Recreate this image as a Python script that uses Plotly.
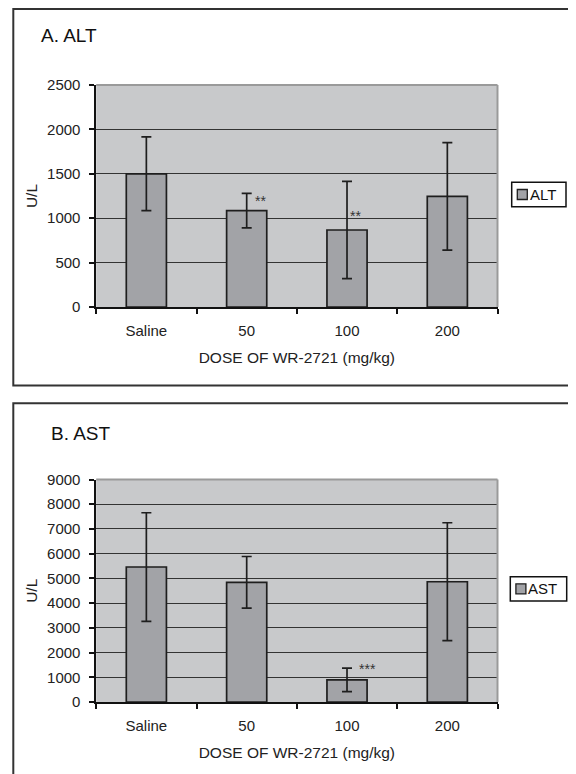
import plotly.graph_objects as go

# ---------------- data ----------------
categories = ["Saline", "50", "100", "200"]
alt_mean = [1500, 1085, 867, 1245]
alt_err = [415, 195, 548, 605]
ast_mean = [5460, 4840, 895, 4865]
ast_err = [2195, 1045, 475, 2385]
alt_ticks = [0, 500, 1000, 1500, 2000, 2500]
ast_ticks = [0, 1000, 2000, 3000, 4000, 5000, 6000, 7000, 8000, 9000]
# significance marks: (category, label y value, text)
alt_sig = [("50", 1233, "**"), ("100", 1055, "**")]
ast_sig = [("100", 1476, "***")]

# ---------------- styling ----------------
W, H = 576, 774
OFF = 8  # the page body adds an 8px margin around the figure
FONT = "Liberation Sans, Arial, sans-serif"
BG = "#c8c9cb"
BAR = "#a2a3a7"
EDGE = "#1e1e1e"
GRID = "#333333"


def px(x):
    return (x - OFF) / W


def py(y):
    return 1 - (y - OFF) / H


fig = go.Figure()

fig.add_trace(go.Bar(
    x=categories, y=alt_mean, name="ALT", width=0.4,
    marker=dict(color=BAR, line=dict(color=EDGE, width=1.7)),
    error_y=dict(type="data", array=alt_err, visible=True,
                 color=EDGE, thickness=1.7, width=5),
    xaxis="x", yaxis="y", showlegend=False,
))
fig.add_trace(go.Bar(
    x=categories, y=ast_mean, name="AST", width=0.4,
    marker=dict(color=BAR, line=dict(color=EDGE, width=1.7)),
    error_y=dict(type="data", array=ast_err, visible=True,
                 color=EDGE, thickness=1.7, width=5),
    xaxis="x2", yaxis="y2", showlegend=False,
))

xdom = [px(96.2), px(497.5)]
common_x = dict(
    type="category", categoryorder="array", categoryarray=categories,
    range=[-0.5, len(categories) - 0.5],
    tickson="boundaries", ticks="outside", ticklen=5,
    tickwidth=1.5, tickcolor="#111", showline=True, linecolor="#111",
    linewidth=1.5, showgrid=False, zeroline=False, tickangle=0,
    tickfont=dict(family=FONT, size=15, color="#222"),
    ticklabelstandoff=9,
    title=dict(text="DOSE OF WR-2721 (mg/kg)",
               font=dict(family=FONT, size=15.5, color="#222"), standoff=14),
    automargin=False, fixedrange=True,
)
common_y = dict(
    ticks="outside", ticklen=5, tickwidth=1.5, tickcolor="#111",
    showline=True, linecolor="#111", linewidth=1.5,
    showgrid=True, gridcolor=GRID, gridwidth=1.1, zeroline=False,
    tickfont=dict(family=FONT, size=15, color="#222"),
    ticklabelstandoff=6,
    title=dict(text="U/L", font=dict(family=FONT, size=15.5, color="#222"),
               standoff=6),
    automargin=False, fixedrange=True,
)

fig.update_layout(
    width=W, height=H,
    margin=dict(l=0, r=0, t=0, b=0),
    paper_bgcolor="white",
    plot_bgcolor=BG,
    font=dict(family=FONT, color="#222"),
    xaxis=dict(common_x, domain=xdom, anchor="y"),
    yaxis=dict(common_y, domain=[py(307), py(85)], anchor="x",
               range=[0, 2500], tickvals=alt_ticks),
    xaxis2=dict(common_x, domain=xdom, anchor="y2"),
    yaxis2=dict(common_y, domain=[py(702), py(479.5)], anchor="x2",
                range=[0, 9000], tickvals=ast_ticks),
)

shapes = []
# panel frames
shapes.append(dict(type="rect", xref="paper", yref="paper",
                   x0=px(13.3), x1=1.02, y0=py(385.5), y1=py(9),
                   line=dict(color="#333", width=2), fillcolor="rgba(0,0,0,0)"))
shapes.append(dict(type="rect", xref="paper", yref="paper",
                   x0=px(13.3), x1=1.02, y0=-0.05, y1=py(403.3),
                   line=dict(color="#333", width=2), fillcolor="rgba(0,0,0,0)"))
# light plot-area border (top and right)
for xa, ya in (("x", "y"), ("x2", "y2")):
    shapes.append(dict(type="line", xref=f"{xa} domain", yref=f"{ya} domain",
                       x0=0, x1=1, y0=1, y1=1, line=dict(color="#9a9a9a", width=2)))
    shapes.append(dict(type="line", xref=f"{xa} domain", yref=f"{ya} domain",
                       x0=1, x1=1, y0=0, y1=1, line=dict(color="#9a9a9a", width=2)))

# manual legends
legends = [("ALT", 511.7, 566.0, 182.3, 206.7), ("AST", 510.3, 566.7, 576.7, 601.0)]
annotations = []
for label, lx0, lx1, ly0, ly1 in legends:
    shapes.append(dict(type="rect", xref="paper", yref="paper",
                       x0=px(lx0), x1=px(lx1), y0=py(ly1), y1=py(ly0),
                       line=dict(color="#111", width=1.5), fillcolor="white"))
    cy = (ly0 + ly1) / 2
    shapes.append(dict(type="rect", xref="paper", yref="paper",
                       x0=px(lx0 + 5.6), x1=px(lx0 + 15.6), y0=py(cy + 5), y1=py(cy - 5),
                       line=dict(color=EDGE, width=1.3), fillcolor=BAR))
    annotations.append(dict(text=label, xref="paper", yref="paper",
                            x=px(lx0 + 16.0), y=py(cy), xanchor="left", yanchor="middle",
                            showarrow=False, font=dict(family=FONT, size=15, color="#111")))

# panel titles
annotations.append(dict(text="A. ALT", xref="paper", yref="paper", x=px(38.5), y=py(35.5),
                        xanchor="left", yanchor="middle", showarrow=False,
                        font=dict(family=FONT, size=19, color="#111")))
annotations.append(dict(text="B. AST", xref="paper", yref="paper", x=px(49.4), y=py(433),
                        xanchor="left", yanchor="middle", showarrow=False,
                        font=dict(family=FONT, size=19, color="#111")))

# significance asterisks (x given as category index)
shift = {"50": 13.7, "100": 8.5}
for cat, yv, txt in alt_sig:
    annotations.append(dict(text=txt, xref="x", yref="y", x=categories.index(cat), y=yv,
                            xshift=shift[cat], yshift=-3, showarrow=False,
                            xanchor="center", yanchor="middle",
                            font=dict(family=FONT, size=14, color="#333")))
for cat, yv, txt in ast_sig:
    annotations.append(dict(text=txt, xref="x2", yref="y2", x=categories.index(cat), y=yv,
                            xshift=20.6, yshift=-3, showarrow=False,
                            xanchor="center", yanchor="middle",
                            font=dict(family=FONT, size=14, color="#333")))

fig.update_layout(shapes=shapes, annotations=annotations)

fig.write_html("out.html")
